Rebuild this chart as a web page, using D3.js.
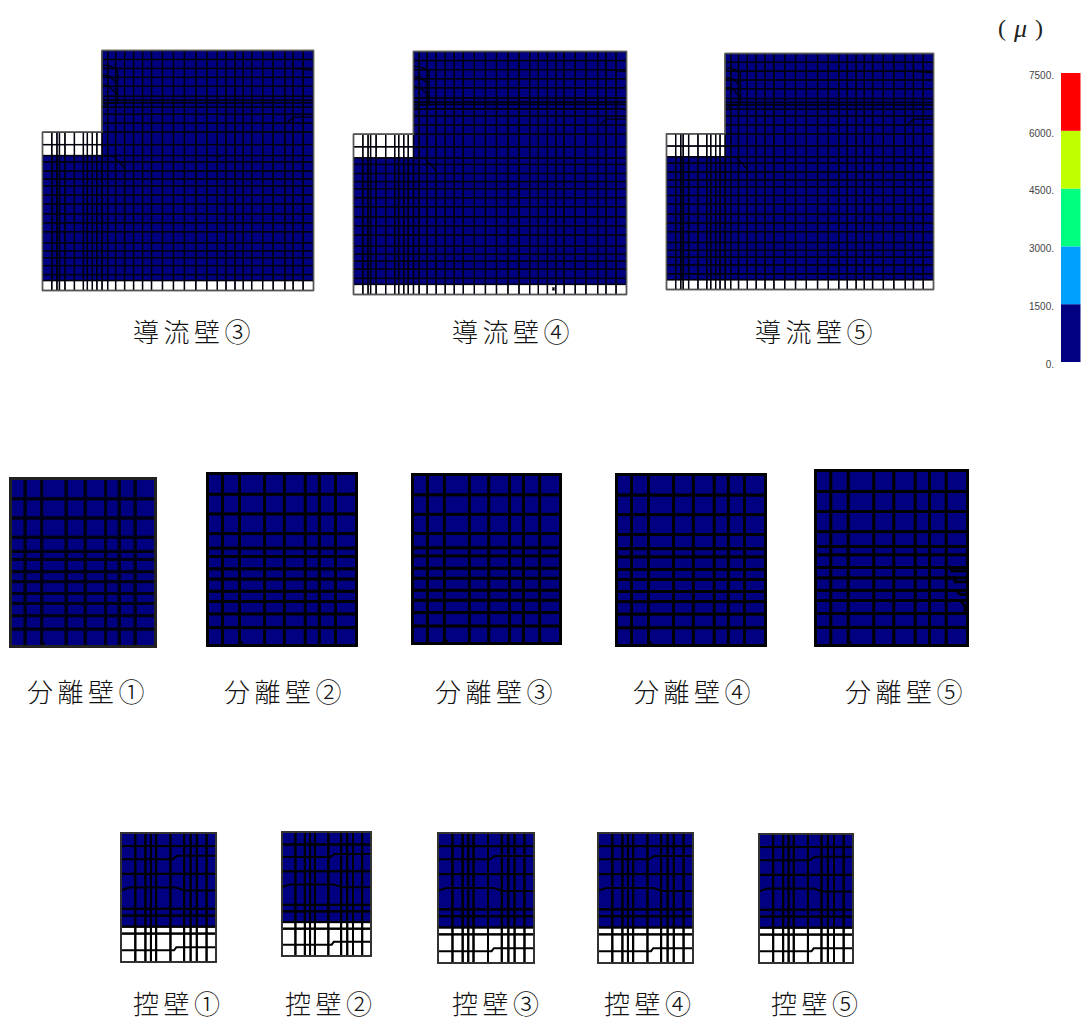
<!DOCTYPE html>
<html>
<head>
<meta charset="utf-8">
<script src="https://cdnjs.cloudflare.com/ajax/libs/d3/7.8.5/d3.min.js"></script>
<style>
  html, body { margin: 0; padding: 0; background: #fff; }
  svg { display: block; }
</style>
</head>
<body>
<div id="viz"></div>
<script>
//-------Make the "Data"-----------
var legendTicks = [0, 1500, 3000, 4500, 6000, 7500];
var legendColors = ["#000080", "#00a0ff", "#00ff80", "#bfff00", "#ff0000"];

// mesh lines
var wallColumns = [0, 9.3, 14.5, 17, 22.5, 32, 41, 45, 50, 54.5, 59.7, 65.3, 73.3, 82.3, 91.3, 100.3, 109.3, 120.3, 131.3, 142.3, 153.7, 164.7, 175.3, 184, 193, 201.3, 209.7, 220.7, 231.3, 243, 251.3, 261.3, 271.7];
var wallRows = [0, 9, 18, 27, 36, 46, 50, 52.5, 57, 64, 73, 82, 94.5, 105.5, 112, 121, 129, 136, 145, 154, 164, 173, 182, 193, 201, 208, 216, 225, 231, 241];
var wallStep = 59.7;        // stub ends here
var wallStubRows = [82, 105.5];
var wallFootRows = [231, 241];
var wallBends = [
  [[59.7, 15], [66, 15], [75.3, 19]],
  [[59.7, 25], [66, 25], [74, 32]],
  [[59.7, 35], [66, 35], [75.3, 45]],
  [[75.3, 19], [75.3, 53]],
  [[59.7, 57], [66, 53], [75.3, 53]],
  [[251.3, 10], [251.3, 18], [271.7, 20]],
  [[245, 73], [251.3, 67], [271.7, 67]],
  [[59.7, 95], [71, 95]],
  [[59.7, 106], [71, 106], [82.3, 118]],
  [[82.3, 118], [82.3, 222]]
];
var wallMarks = {
  "導流壁③": [[[172, 105], [176, 107], [179, 105]]],
  "導流壁④": [[[198, 234], [200, 237]], [[200, 234], [198, 237]]],
  "導流壁⑤": []
};

var sepColumns = [0, 46, 98, 175, 235, 299, 342, 392, 456];
var sepRows = [0, 63, 123, 183, 227, 252, 290, 321, 358, 389, 427, 469, 523];
var sepNotch = [[[100, 513], [108, 516]]];
var sepKinks = [
  [[392, 290], [408, 290], [408, 300], [456, 300]],
  [[392, 321], [418, 321], [418, 333], [456, 333]],
  [[392, 358], [420, 358], [436, 371], [456, 371]],
  [[392, 389], [436, 389], [448, 405], [456, 405]],
  [[448, 405], [448, 427]]
];

var buttressColumns = [0, 44, 75, 92, 108, 152, 194, 214, 233, 263, 292];
var buttressRows = [0, 40, 125, 232, 253, 287, 308, 395];
var buttressWhiteFrom = 287;
var buttressBent = [
  [[0, 80], [158, 80], [173, 70], [292, 70]],
  [[0, 176], [25, 167], [170, 167], [196, 176], [292, 176]],
  [[0, 359], [163, 359], [170, 350], [292, 350]]
];

//---------------------------------
var width = 1084,
    height = 1021;

var wallPanels = [
  {name: "導流壁③", x0: 42, x1: 314, y0: 50, y1: 291, labelX: 133},
  {name: "導流壁④", x0: 353, x1: 627, y0: 51, y1: 295, labelX: 452},
  {name: "導流壁⑤", x0: 666, x1: 934, y0: 53, y1: 290, labelX: 755}
];
var sepPanels = [
  {name: "分離壁①", x0: 9, x1: 157, y0: 477, y1: 648, labelX: 27, soft: true},
  {name: "分離壁②", x0: 206, x1: 358, y0: 472, y1: 647, labelX: 224},
  {name: "分離壁③", x0: 411, x1: 562, y0: 473, y1: 645, labelX: 435},
  {name: "分離壁④", x0: 615, x1: 767, y0: 473, y1: 647, labelX: 633},
  {name: "分離壁⑤", x0: 814, x1: 969, y0: 469, y1: 647, labelX: 845, kinks: true}
];
var buttressPanels = [
  {name: "控壁①", x0: 120, x1: 217, y0: 832, y1: 963, labelX: 133},
  {name: "控壁②", x0: 281, x1: 372, y0: 831, y1: 957, labelX: 285},
  {name: "控壁③", x0: 437, x1: 535, y0: 832, y1: 964, labelX: 452},
  {name: "控壁④", x0: 597, x1: 694, y0: 832, y1: 964, labelX: 604},
  {name: "控壁⑤", x0: 758, x1: 854, y0: 833, y1: 964, labelX: 771}
];
var wallLabelY = 330, sepLabelY = 690, buttressLabelY = 1002;

var svg = d3.select("#viz")
  .append("svg")
    .attr("width", width)
    .attr("height", height);

var defs = svg.append("defs");
defs.append("filter").attr("id", "soft")
    .append("feGaussianBlur").attr("stdDeviation", 0.25);
defs.append("filter").attr("id", "softer")
    .append("feGaussianBlur").attr("stdDeviation", 0.6);

var line = d3.line();

// one helper for all three wall types: cells from the grid, then the lines over them
function drawMesh(panel, columns, rows, opt) {
  var xScale = d3.scaleLinear()
      .domain(d3.extent(columns))
      .range([panel.x0 + opt.inset, panel.x1 - opt.inset]);
  var yScale = d3.scaleLinear()
      .domain(d3.extent(rows))
      .range([panel.y0 + opt.inset, panel.y1 - opt.inset]);

  var g = svg.append("g")
      .attr("class", "panel")
      .attr("filter", opt.filter || null);

  var cells = [];
  d3.pairs(columns).forEach((c)=>{
    d3.pairs(rows).forEach((r)=>{
      var state = opt.cellState(c, r);
      if (state) cells.push({c: c, r: r, state: state});
    });
  });

  g.selectAll("rect.cell")
    .data(cells)
    .enter()
    .append("rect")
    .attr("class", "cell")
    .attr("x", (d)=>{return xScale(d.c[0]);})
    .attr("y", (d)=>{return yScale(d.r[0]);})
    .attr("width", (d)=>{return xScale(d.c[1]) - xScale(d.c[0]);})
    .attr("height", (d)=>{return yScale(d.r[1]) - yScale(d.r[0]);})
    .style("fill", (d)=>{return d.state === "white" ? "#fff" : legendColors[0];});

  // grid segments, only along cells that exist
  var segs = [];
  cells.forEach((d)=>{
    segs.push([[d.c[0], d.r[0]], [d.c[1], d.r[0]]]);
    segs.push([[d.c[0], d.r[1]], [d.c[1], d.r[1]]]);
    segs.push([[d.c[0], d.r[0]], [d.c[0], d.r[1]]]);
    segs.push([[d.c[1], d.r[0]], [d.c[1], d.r[1]]]);
  });
  (opt.extra || []).forEach((p)=>{segs.push(p);});

  g.selectAll("path.mesh")
    .data(segs)
    .enter()
    .append("path")
    .attr("class", "mesh")
    .attr("d", (d)=>{return line(d.map((p)=>{return [xScale(p[0]), yScale(p[1])];}));})
    .style("fill", "none")
    .style("stroke", opt.stroke)
    .style("stroke-width", opt.lineWidth)
    .style("stroke-linecap", "butt");

  if (opt.outline) {
    g.append("path")
      .attr("d", line(opt.outline.map((p)=>{return [xScale(p[0]), yScale(p[1])];})) + "Z")
      .style("fill", "none")
      .style("stroke", opt.outlineColor)
      .style("stroke-width", opt.outlineWidth);
  }
}

function drawLabel(text, x, y) {
  svg.append("text")
    .attr("x", x)
    .attr("y", y)
    .attr("dominant-baseline", "central")
    .style("font-family", "'Noto Sans CJK JP'")
    .style("font-size", "26px")
    .style("letter-spacing", "4.5px")
    .style("font-weight", 300)
    .style("font-feature-settings", "'fwid'")
    .style("fill", "#111")
    .text(text);
}

//------Flow walls--------------------
var wallW = d3.max(wallColumns), wallH = d3.max(wallRows);

wallPanels.forEach((p)=>{
  drawMesh(p, wallColumns, wallRows, {
    inset: 0.5,
    filter: "url(#soft)",
    stroke: "#00000c",
    lineWidth: 1.3,
    outline: [[wallStep, 0], [wallW, 0], [wallW, wallH], [0, wallH], [0, wallStubRows[0]], [wallStep, wallStubRows[0]]],
    outlineColor: "#555",
    outlineWidth: 1.4,
    extra: wallBends.concat(wallMarks[p.name]),
    cellState: (c, r)=>{
      if (r[0] >= wallFootRows[0]) return "white";
      if (c[1] <= wallStep) {
        if (r[1] <= wallStubRows[0]) return null;
        if (r[1] <= wallStubRows[1]) return "white";
      }
      return "blue";
    }
  });
  drawLabel(p.name, p.labelX, wallLabelY);
});

//------Separator walls--------------------
sepPanels.forEach((p)=>{
  var sepW = d3.max(sepColumns), sepH = d3.max(sepRows);
  drawMesh(p, sepColumns, sepRows, {
    inset: 1.5,
    filter: p.soft ? "url(#softer)" : null,
    stroke: p.soft ? "#020218" : "#000",
    lineWidth: p.soft ? 3 : 2.7,
    outline: [[0, 0], [sepW, 0], [sepW, sepH], [0, sepH]],
    outlineColor: p.soft ? "#222" : "#000",
    outlineWidth: 3,
    extra: p.kinks ? sepNotch.concat(sepKinks) : sepNotch,
    cellState: ()=>{return "blue";}
  });
  drawLabel(p.name, p.labelX, sepLabelY);
});

//------Buttresses--------------------
buttressPanels.forEach((p)=>{
  var bW = d3.max(buttressColumns), bH = d3.max(buttressRows);
  drawMesh(p, buttressColumns, buttressRows, {
    inset: 1,
    filter: "url(#soft)",
    stroke: "#000",
    lineWidth: 2,
    outline: [[0, 0], [bW, 0], [bW, bH], [0, bH]],
    outlineColor: "#333",
    outlineWidth: 2,
    extra: buttressBent,
    cellState: (c, r)=>{return r[0] >= buttressWhiteFrom ? "white" : "blue";}
  });
  drawLabel(p.name, p.labelX, buttressLabelY);
});

//------Legend--------------------
var legendScale = d3.scaleLinear()
    .domain([0, 7500])
    .range([362, 73]);

var legend = svg.append("g").attr("id", "legend");

legend.selectAll("rect")
    .data(d3.pairs(legendTicks))
    .enter()
    .append("rect")
    .attr("x", 1061)
    .attr("width", 19.5)
    .attr("y", (d)=>{return legendScale(d[1]);})
    .attr("height", (d)=>{return legendScale(d[0]) - legendScale(d[1]);})
    .style("fill", (d, i)=>{return legendColors[i];});

var legendAxis = d3.axisLeft(legendScale)
    .tickValues(legendTicks)
    .tickSize(0)
    .tickPadding(0)
    .tickFormat((d)=>{return d + ".";});

var gLegendAxis = legend.append("g")
    .attr("transform", "translate(1054,2)")
    .call(legendAxis);
gLegendAxis.select(".domain").remove();
gLegendAxis.selectAll("text")
    .style("font-family", "'Liberation Sans'")
    .style("font-size", "10px")
    .style("fill", "#444");

var unit = svg.append("text")
    .attr("x", 998)
    .attr("y", 28)
    .attr("dominant-baseline", "central")
    .style("font-family", "'Liberation Serif'")
    .style("font-size", "24px")
    .style("fill", "#222");
unit.append("tspan").text("(");
unit.append("tspan").attr("dx", 8).style("font-style", "italic").style("font-size", "26px").text("μ");
unit.append("tspan").attr("dx", 8).text(")");
</script>
</body>
</html>
